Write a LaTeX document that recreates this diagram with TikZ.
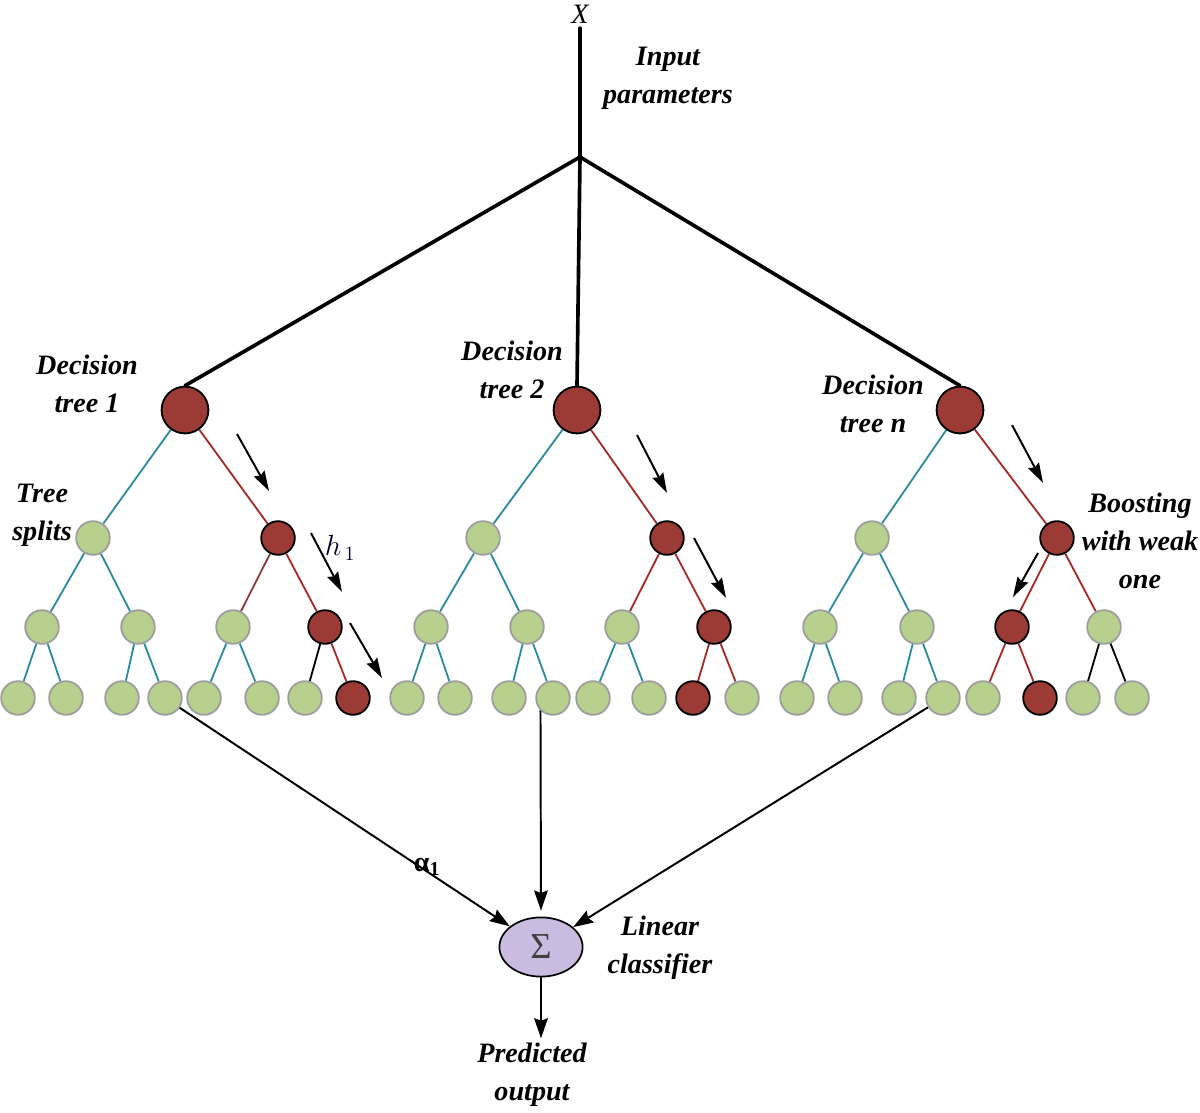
\documentclass[tikz,border=0pt]{standalone}
\usepackage{fontspec}
\setmainfont{Liberation Serif}
\usetikzlibrary{arrows.meta,backgrounds,shapes.geometric}

\definecolor{nodered}{HTML}{9C3B36}
\definecolor{nodegreen}{HTML}{B7D08D}
\definecolor{nodegray}{HTML}{9E9E9E}
\definecolor{edgeteal}{HTML}{2C8C9F}
\definecolor{edgered}{HTML}{A52A2A}
\definecolor{edgebrown}{HTML}{8B3C3A}
\definecolor{sumfill}{HTML}{C9BCE0}

\begin{document}
\begin{tikzpicture}[
    x=0.025cm, y=-0.025cm,
    rootnode/.style={circle, draw=black, line width=1.3pt, fill=nodered, minimum size=1.17cm, inner sep=0pt},
    rednode/.style={circle, draw=black, line width=1.3pt, fill=nodered, minimum size=0.84cm, inner sep=0pt},
    greennode/.style={circle, draw=nodegray, line width=1.3pt, fill=nodegreen, minimum size=0.84cm, inner sep=0pt},
    tealedge/.style={draw=edgeteal, line width=1.3pt},
    rededge/.style={draw=edgered, line width=1.3pt},
    brownedge/.style={draw=edgebrown, line width=1.3pt},
    blackedge/.style={draw=black, line width=1.3pt},
    trunk/.style={draw=black, line width=2.6pt, line cap=round},
    walk/.style={-{Stealth[length=0.5cm, width=0.3cm, inset=0.06cm]}, line width=1.4pt},
    feed/.style={-{Stealth[length=0.5cm, width=0.34cm, inset=0.06cm]}, line width=1.4pt},
    sumnode/.style={ellipse, draw=black, line width=1.2pt, fill=sumfill, minimum width=2.08cm, minimum height=1.48cm, font=\fontsize{26}{26}\selectfont, text=black!75},
    note/.style={font=\fontsize{20}{27}\selectfont\bfseries\itshape, align=center}
]
\useasboundingbox (0,0) rectangle (1200,1112);

% Input
\node[font=\fontsize{20}{20}\selectfont\itshape] (xin) at (580,14) {X};
\coordinate (fork) at (580,157);
\node[note] (inp) at (668,78) {Input\\parameters};

% Decision tree 1
\node[rootnode] (t1) at (185,410) {};
\node[greennode] (t1-l) at (93,538) {};
\node[rednode] (t1-r) at (278,538) {};
\foreach \n/\x in {ll/42, lr/138, rl/233}
    \node[greennode] (t1-\n) at (\x,627) {};
\node[rednode] (t1-rr) at (325,627) {};
\foreach \n/\x in {lll/18, llr/66, lrl/122, lrr/165, rll/204, rlr/262, rrl/305}
    \node[greennode] (t1-\n) at (\x,698) {};
\node[rednode] (t1-rrr) at (353,698) {};

% Decision tree 2
\node[rootnode] (t2) at (577,410) {};
\node[greennode] (t2-l) at (483,538) {};
\node[rednode] (t2-r) at (667,538) {};
\foreach \n/\x in {ll/431, lr/527, rl/622}
    \node[greennode] (t2-\n) at (\x,627) {};
\node[rednode] (t2-rr) at (714,627) {};
\foreach \n/\x in {lll/407, llr/455, lrl/509, lrr/553, rll/593, rlr/649, rrr/742}
    \node[greennode] (t2-\n) at (\x,698) {};
\node[rednode] (t2-rrl) at (693,698) {};

% Decision tree n
\node[rootnode] (t3) at (960,410) {};
\node[greennode] (t3-l) at (872,538) {};
\node[rednode] (t3-r) at (1057,538) {};
\foreach \n/\x in {ll/820, lr/917, rr/1104}
    \node[greennode] (t3-\n) at (\x,627) {};
\node[rednode] (t3-rl) at (1012,627) {};
\foreach \n/\x in {lll/797, llr/845, lrl/899, lrr/943, rll/983, rrl/1083, rrr/1132}
    \node[greennode] (t3-\n) at (\x,698) {};
\node[rednode] (t3-rlr) at (1040,698) {};

% Branches
\begin{scope}[on background layer]
    \foreach \t in {t1, t2, t3}
        \foreach \a/\b in {/-l, -l/-ll, -l/-lr, -ll/-lll, -ll/-llr, -lr/-lrl, -lr/-lrr}
            \draw[tealedge] (\t\a) -- (\t\b);
    \foreach \a/\b in {t1-rl/t1-rll, t1-rl/t1-rlr, t2-rl/t2-rll, t2-rl/t2-rlr}
        \draw[tealedge] (\a) -- (\b);
    \foreach \a/\b in {t1/t1-r, t1-r/t1-rr, t1-rr/t1-rrr,
                       t2/t2-r, t2-r/t2-rl, t2-r/t2-rr, t2-rr/t2-rrl, t2-rr/t2-rrr,
                       t3/t3-r, t3-r/t3-rl, t3-r/t3-rr, t3-rl/t3-rll, t3-rl/t3-rlr}
        \draw[rededge] (\a) -- (\b);
    \draw[brownedge] (t1-r) -- (t1-rl);
    \foreach \a/\b in {t1-rr/t1-rrl, t3-rr/t3-rrl, t3-rr/t3-rrr}
        \draw[blackedge] (\a) -- (\b);
\end{scope}

% Trunk to the trees
\draw[trunk] (xin) -- (fork);
\foreach \t in {t1, t2, t3}
    \draw[trunk] (fork) -- (\t.north);

% Labels
\node[note] (dt1) at (87,384) {Decision\\tree 1};
\node[note] (dt2) at (512,370) {Decision\\tree 2};
\node[note] (dtn) at (873,404) {Decision\\tree n};
\node[note] (splits) at (42,515) {Tree\\splits};
\node[note] (boost) at (1140,541) {Boosting\\with weak\\one};
\node[font=\fontsize{22}{22}\selectfont, text=black!85!blue] (hone) at (340,548) {$h_{\,1}$};

% Path arrows
\draw[walk] (237,434) -- (269,491);
\draw[walk] (311,533) -- (342,592);
\draw[walk] (350,623) -- (382,678);
\draw[walk] (637,435) -- (667,493);
\draw[walk] (694,538) -- (726,598);
\draw[walk] (1012,425) -- (1043,483);
\draw[walk] (1038,553) -- (1013,597);

% Linear classifier
\node[sumnode] (sum) at (541,947) {Σ};
\node[note] (linear) at (660,948) {Linear\\classifier};
\node[note] (pred) at (532,1075) {Predicted\\output};
\node[font=\fontsize{20}{20}\selectfont\bfseries] (alpha) at (427,867) {α\textsubscript{1}};

\draw[feed] (t1-lrr) -- (sum);
\draw[feed, shorten >=0.15cm] (t2-lrr.south west) -- (sum.north);
\draw[feed] (t3-lrr) -- (sum);
\draw[feed] (sum) -- (sum |- pred.north);

\end{tikzpicture}
\end{document}
